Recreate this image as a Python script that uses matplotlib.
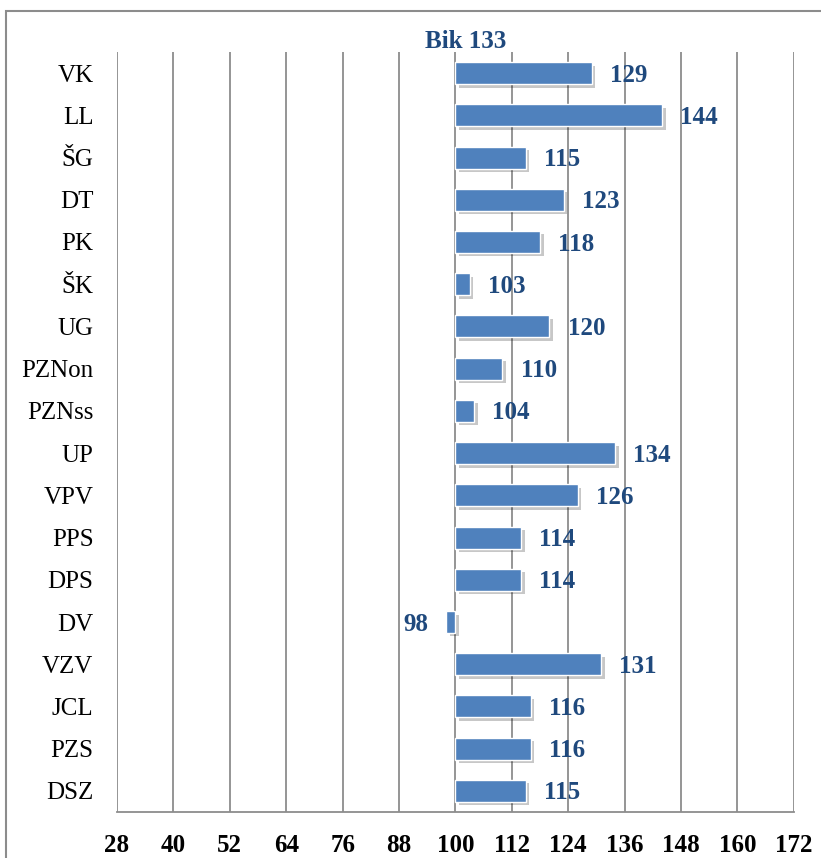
import matplotlib
matplotlib.use("Agg")
import matplotlib.pyplot as plt
import matplotlib.patheffects as pe
from matplotlib.patches import Rectangle

categories = ["VK", "LL", "ŠG", "DT", "PK", "ŠK", "UG", "PZNon", "PZNss", "UP",
              "VPV", "PPS", "DPS", "DV", "VZV", "JCL", "PZS", "DSZ"]
values = [129, 144, 115, 123, 118, 103, 120, 110, 104, 134, 126, 114, 114, 98, 131, 116, 116, 115]
base = 100
ticks = [28, 40, 52, 64, 76, 88, 100, 112, 124, 136, 148, 160, 172]
title = "Bik 133"

plt.rcParams['font.family'] = ['Liberation Serif', 'DejaVu Serif']

fig = plt.figure(figsize=(8.21, 8.58), dpi=100)
ax = fig.add_axes([0.1425, 0.0536, 0.8245, 0.8858])

bar_color = "#4F81BD"
label_color = "#1F497D"
grid_color = "#8C8C8C"

y = list(range(len(categories)))
widths = [v - base for v in values]
bars = ax.barh(y, widths, left=base, height=0.52, color=bar_color,
               edgecolor="white", linewidth=1.0, zorder=3)
for b in bars:
    b.set_path_effects([pe.SimplePatchShadow(offset=(2.5, -2.5), shadow_rgbFace="black", alpha=0.22),
                        pe.Normal()])

for yi, v in zip(y, values):
    if v >= base:
        ax.annotate(str(v), xy=(v, yi), xytext=(13, -1.5), textcoords="offset points",
                    ha="left", va="center", fontsize=18, fontweight="bold",
                    color=label_color, zorder=4)
    else:
        ax.annotate(str(v), xy=(v, yi), xytext=(-13, -1.5), textcoords="offset points",
                    ha="right", va="center", fontsize=18, fontweight="bold",
                    color=label_color, zorder=4)

ax.set_xlim(ticks[0], ticks[-1])
ax.set_ylim(len(categories) - 0.5, -0.5)
ax.set_xticks(ticks)
ax.set_xticklabels([str(t) for t in ticks], fontsize=18, fontweight="bold", color="black")
ax.set_yticks(y)
ax.set_yticklabels(categories, fontsize=18, color="black")
ax.tick_params(axis="x", length=0, pad=16)
ax.tick_params(axis="y", length=0, pad=17)

ax.grid(axis="x", color=grid_color, linewidth=1.3, zorder=0)
ax.set_axisbelow(True)
for s in ["top", "left", "right"]:
    ax.spines[s].set_visible(False)
ax.spines["bottom"].set_color(grid_color)
ax.spines["bottom"].set_linewidth(1.3)

fig.text(466 / 821, 1 - 41 / 858, title, ha="center", va="center",
         fontsize=18, fontweight="bold", color=label_color)

# outer chart border (extends past the right and bottom edges)
rect = Rectangle((6 / 821, -0.05), 1.1, 1 - 11 / 858 + 0.05, transform=fig.transFigure,
                 fill=False, edgecolor=grid_color, linewidth=1.5, clip_on=False)
fig.patches.append(rect)

fig.savefig("out.png", dpi=100)
